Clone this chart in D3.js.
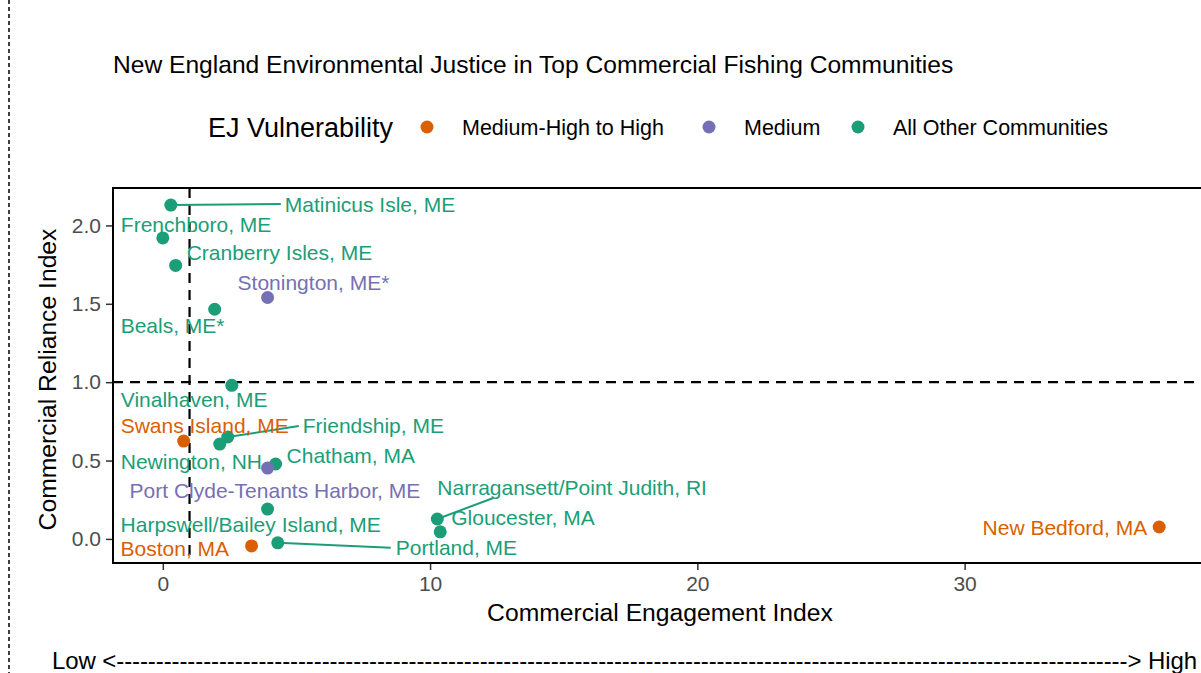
<!DOCTYPE html>
<html>
<head>
<meta charset="utf-8">
<script src="https://cdn.jsdelivr.net/npm/d3@7"></script>
<style>
  body { margin: 0; background: #fff; }
  svg { font-family: "Liberation Sans", Arial, sans-serif; }
</style>
</head>
<body>
<div id="chart"></div>
<script>
// community data
const communities = ["Matinicus Isle, ME", "Frenchboro, ME", "Cranberry Isles, ME", "Stonington, ME*",
  "Beals, ME*", "Vinalhaven, ME", "Swans Island, ME", "Friendship, ME", "Newington, NH", "Chatham, MA",
  "Port Clyde-Tenants Harbor, ME", "Harpswell/Bailey Island, ME", "Narragansett/Point Judith, RI",
  "Gloucester, MA", "Portland, ME", "Boston, MA", "New Bedford, MA"];
const engagement = [0.3, 0.0, 0.48, 3.92, 1.94, 2.58, 0.78, 2.43, 2.13, 4.22, 3.92, 3.92, 10.27, 10.38, 4.3, 3.32, 37.28];
const reliance = [2.13, 1.92, 1.745, 1.54, 1.465, 0.98, 0.624, 0.65, 0.605, 0.478, 0.452, 0.19, 0.127, 0.045, -0.025, -0.045, 0.076];
const vulnerability = ["All Other Communities", "All Other Communities", "All Other Communities", "Medium",
  "All Other Communities", "All Other Communities", "Medium-High to High", "All Other Communities",
  "All Other Communities", "All Other Communities", "Medium", "All Other Communities",
  "All Other Communities", "All Other Communities", "All Other Communities", "Medium-High to High",
  "Medium-High to High"];
const groups = ["Medium-High to High", "Medium", "All Other Communities"];
const xTicks = [0, 10, 20, 30];
const yTicks = [0, 0.5, 1, 1.5, 2];

// repelled label placement (pixel offsets from the point), text anchor
const labelOffset = [
  [114, -1, "start"], [-42, -14, "start"], [11, -13, "start"], [-30, -15, "start"],
  [-94, 16, "start"], [-111, 14, "start"], [-63, -16, "start"], [75, -12, "start"],
  [-99, 17, "start"], [11, -9, "start"], [-138, 22, "start"], [-147, 15, "start"],
  [0, -32, "start"], [11, -14, "start"], [118, 5, "start"], [-131, 2, "start"],
  [-12, 0, "end"]];
// where the leader segment stops, relative to the point
const segmentEnd = {
  "Matinicus Isle, ME": [110, -1],
  "Friendship, ME": [71, -11],
  "Narragansett/Point Judith, RI": [56, -21],
  "Portland, ME": [113, 5]
};

const W = 1201, H = 673;
const margin = { left: 113, top: 188, bottom: 563 };

function expand(ext) {
  const pad = (ext[1] - ext[0]) * 0.05;
  return [ext[0] - pad, ext[1] + pad];
}

const x = d3.scaleLinear().domain(expand(d3.extent(engagement))).range([margin.left, 1209]);
const y = d3.scaleLinear().domain(expand(d3.extent(reliance))).range([margin.bottom, margin.top]);
const color = d3.scaleOrdinal(groups, ["#D95F02", "#7570B3", "#1B9E77"]);

const svg = d3.select("#chart").append("svg").attr("width", W).attr("height", H);

// outer dashed divider on the left
svg.append("line").attr("x1", 9).attr("x2", 9).attr("y1", 0).attr("y2", H)
  .attr("stroke", "#000").attr("stroke-width", 1.5).attr("stroke-dasharray", "4,3");

svg.append("text").attr("x", 113).attr("y", 73).attr("font-size", 24.6).attr("fill", "#000")
  .text("New England Environmental Justice in Top Commercial Fishing Communities");

// legend
const lg = svg.append("g").attr("transform", "translate(0,127)");
lg.append("text").attr("x", 208).attr("dy", "0.36em").attr("font-size", 27).text("EJ Vulnerability");
const legX = [427, 709, 858];
groups.forEach((g, i) => {
  lg.append("circle").attr("cx", legX[i]).attr("cy", 0).attr("r", 6.5).attr("fill", color(g));
  lg.append("text").attr("x", legX[i] + 35).attr("dy", "0.36em").attr("font-size", 21.5).text(g);
});

const plot = svg.append("g");
svg.append("clipPath").attr("id", "panel").append("rect")
  .attr("x", margin.left).attr("y", margin.top).attr("width", 1209 - margin.left).attr("height", margin.bottom - margin.top);

// reference lines
plot.append("line").attr("x1", x(1)).attr("x2", x(1)).attr("y1", margin.top).attr("y2", margin.bottom)
  .attr("stroke", "#000").attr("stroke-width", 2.2).attr("stroke-dasharray", "10,7");
plot.append("line").attr("x1", margin.left).attr("x2", W).attr("y1", y(1)).attr("y2", y(1))
  .attr("stroke", "#000").attr("stroke-width", 2.2).attr("stroke-dasharray", "10,7");

const pts = communities.map((c, i) => ({
  name: c, x: engagement[i], y: reliance[i], g: vulnerability[i],
  dx: labelOffset[i][0], dy: labelOffset[i][1], anchor: labelOffset[i][2]
}));

// segments for labels pushed far from their point
const seg = plot.append("g").attr("clip-path", "url(#panel)");
pts.filter(d => segmentEnd[d.name]).forEach(d => {
  const e = segmentEnd[d.name];
  seg.append("line")
    .attr("x1", x(d.x)).attr("y1", y(d.y))
    .attr("x2", x(d.x) + e[0]).attr("y2", y(d.y) + e[1])
    .attr("stroke", color(d.g)).attr("stroke-width", 2);
});

plot.append("g").selectAll("circle").data(pts).join("circle")
  .attr("cx", d => x(d.x)).attr("cy", d => y(d.y)).attr("r", 6.5)
  .attr("fill", d => color(d.g));

plot.append("g").selectAll("text").data(pts).join("text")
  .attr("x", d => x(d.x) + d.dx).attr("y", d => y(d.y) + d.dy)
  .attr("dy", "0.36em").attr("text-anchor", d => d.anchor)
  .attr("font-size", 21).attr("fill", d => color(d.g))
  .text(d => d.name);

// panel border (right side runs off the page)
svg.append("path")
  .attr("d", `M${W + 5},${margin.top}H${margin.left}V${margin.bottom}H${W + 5}`)
  .attr("fill", "none").attr("stroke", "#000").attr("stroke-width", 2);

// axes
const xAxis = svg.append("g").attr("transform", `translate(0,${margin.bottom + 1})`)
  .call(d3.axisBottom(x).tickValues(xTicks).tickSize(6).tickPadding(6).tickFormat(d3.format("d")));
const yAxis = svg.append("g").attr("transform", `translate(${margin.left - 1},0)`)
  .call(d3.axisLeft(y).tickValues(yTicks).tickSize(6).tickPadding(5).tickFormat(d3.format(".1f")));
[xAxis, yAxis].forEach(a => {
  a.select(".domain").remove();
  a.selectAll(".tick line").attr("stroke", "#333").attr("stroke-width", 1.5);
  a.selectAll(".tick text").attr("fill", "#4d4d4d").attr("font-size", 21)
    .attr("font-family", "Liberation Sans, Arial, sans-serif");
});

svg.append("text").attr("x", 660).attr("y", 621).attr("text-anchor", "middle")
  .attr("font-size", 24.7).text("Commercial Engagement Index");
svg.append("text").attr("transform", `translate(56,${(margin.top + margin.bottom) / 2 + 4}) rotate(-90)`)
  .attr("text-anchor", "middle").attr("font-size", 24.7).text("Commercial Reliance Index");

// low-high arrow caption
svg.append("text").attr("x", 52).attr("y", 669).attr("font-size", 24)
  .attr("textLength", 1145).attr("lengthAdjust", "spacing")
  .text("Low <" + "-".repeat(128) + "> High");
</script>
</body>
</html>
